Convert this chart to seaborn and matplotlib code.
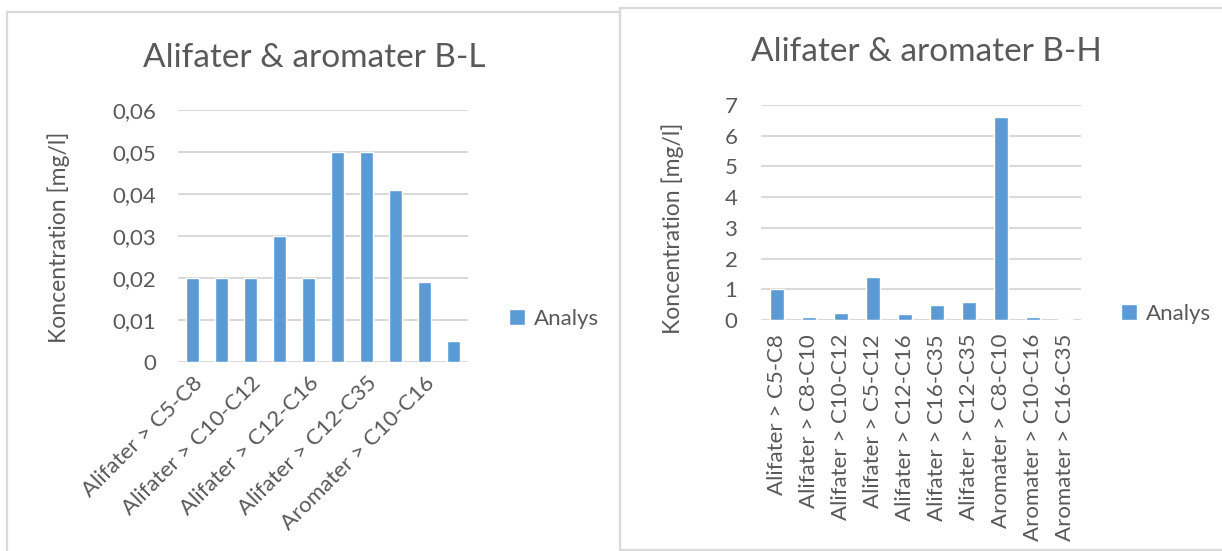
import matplotlib
matplotlib.use("Agg")
import matplotlib.pyplot as plt
from matplotlib.patches import Patch
from matplotlib.lines import Line2D
from matplotlib.ticker import FuncFormatter
import seaborn as sns

# Fractions measured in the two samples
categories = [
    "Alifater > C5-C8",
    "Alifater > C8-C10",
    "Alifater > C10-C12",
    "Alifater > C5-C12",
    "Alifater > C12-C16",
    "Alifater > C16-C35",
    "Alifater > C12-C35",
    "Aromater > C8-C10",
    "Aromater > C10-C16",
    "Aromater > C16-C35",
]
values_bl = [0.02, 0.02, 0.02, 0.03, 0.02, 0.05, 0.05, 0.041, 0.019, 0.005]
values_bh = [1.0, 0.11, 0.22, 1.4, 0.18, 0.49, 0.6, 6.6, 0.1, 0.03]

title_bl = "Alifater & aromater B-L"
title_bh = "Alifater & aromater B-H"
ylabel = "Koncentration [mg/l]"
series_name = "Analys"
yticks_bl = [0, 0.01, 0.02, 0.03, 0.04, 0.05, 0.06]
yticks_bh = [0, 1, 2, 3, 4, 5, 6, 7]

BAR = "#5B9BD5"
GRID = "#D9D9D9"
TEXT = "#595959"
BORDER = "#D9D9D9"
TICK_FS = 16
LABEL_FS = 16.5

sns.set_theme(style="white")
plt.rcParams["font.family"] = ["Lato", "DejaVu Sans"]
plt.rcParams["text.color"] = TEXT

W, H = 1222, 551
fig = plt.figure(figsize=(W / 100, H / 100), dpi=100)
fig.patch.set_facecolor("white")


def fx(px):
    return px / W


def fy(py):
    return 1 - py / H


# chart frames
frame_lines = [
    ((7.5, 7.5), (11.5, 560)),
    ((7.5, 619.5), (11.5, 11.5)),
    ((619.5, 619.5), (7.5, 560)),
    ((619.5, 1230), (7.5, 7.5)),
    ((619.5, 1230), (550, 550)),
]
for xs, ys in frame_lines:
    fig.add_artist(Line2D([fx(x) for x in xs], [fy(y) for y in ys],
                          color=BORDER, lw=1.6, transform=fig.transFigure))


def style_axes(ax, yticks, fmt, ypad):
    ax.set_facecolor("white")
    for s in ax.spines.values():
        s.set_visible(False)
    ax.set_yticks(yticks)
    ax.set_ylim(yticks[0], yticks[-1])
    ax.yaxis.set_major_formatter(FuncFormatter(fmt))
    ax.grid(axis="y", color=GRID, lw=1.5)
    ax.grid(axis="x", visible=False)
    ax.set_axisbelow(True)
    ax.tick_params(axis="both", length=0, labelsize=TICK_FS, colors=TEXT)
    ax.tick_params(axis="y", pad=ypad)
    ax.set_xlabel("")
    ax.set_ylabel(ylabel, fontsize=LABEL_FS, color=TEXT)
    ax.set_xlim(-0.5, len(categories) - 0.5)


def add_legend(px, py):
    fig.legend(handles=[Patch(facecolor=BAR, label=series_name)],
               loc="center left", bbox_to_anchor=(fx(px), fy(py)), frameon=False,
               fontsize=TICK_FS, handlelength=0.7, handleheight=0.7,
               handletextpad=0.4, labelcolor=TEXT)


# left chart: B-L
x0, x1, y0, y1 = 178, 468, 110, 362
ax1 = fig.add_axes([fx(x0), fy(y1), fx(x1 - x0), (y1 - y0) / H])
sns.barplot(x=categories, y=values_bl, ax=ax1, color=BAR, saturation=1,
            width=0.42, order=categories)
style_axes(ax1, yticks_bl,
           lambda v, p: "0" if v == 0 else f"{v:.2f}".replace(".", ","), 16)
ax1.set_xticks(range(0, len(categories), 2))
ax1.set_xticklabels(categories[::2], rotation=45, ha="right",
                    rotation_mode="anchor", fontsize=TICK_FS, color=TEXT)
ax1.tick_params(axis="x", pad=8)
ax1.yaxis.set_label_coords((70 - x0) / (x1 - x0), 1 - (237 - y0) / (y1 - y0))
fig.text(fx(314), fy(58), title_bl, ha="center", va="center", fontsize=24, color=TEXT)
add_legend(489, 319)

# right chart: B-H
x0, x1, y0, y1 = 761, 1081, 105, 320
ax2 = fig.add_axes([fx(x0), fy(y1), fx(x1 - x0), (y1 - y0) / H])
sns.barplot(x=categories, y=values_bh, ax=ax2, color=BAR, saturation=1,
            width=0.42, order=categories)
style_axes(ax2, yticks_bh, lambda v, p: f"{v:g}", 17)
ax2.set_xticks(range(len(categories)))
ax2.set_xticklabels(categories, rotation=90, fontsize=TICK_FS, color=TEXT)
ax2.tick_params(axis="x", pad=10)
ax2.yaxis.set_label_coords((684 - x0) / (x1 - x0), 1 - (228 - y0) / (y1 - y0))
fig.text(fx(926), fy(52), title_bh, ha="center", va="center", fontsize=24, color=TEXT)
add_legend(1101, 314)

fig.savefig("out.png", dpi=100, facecolor="white")
